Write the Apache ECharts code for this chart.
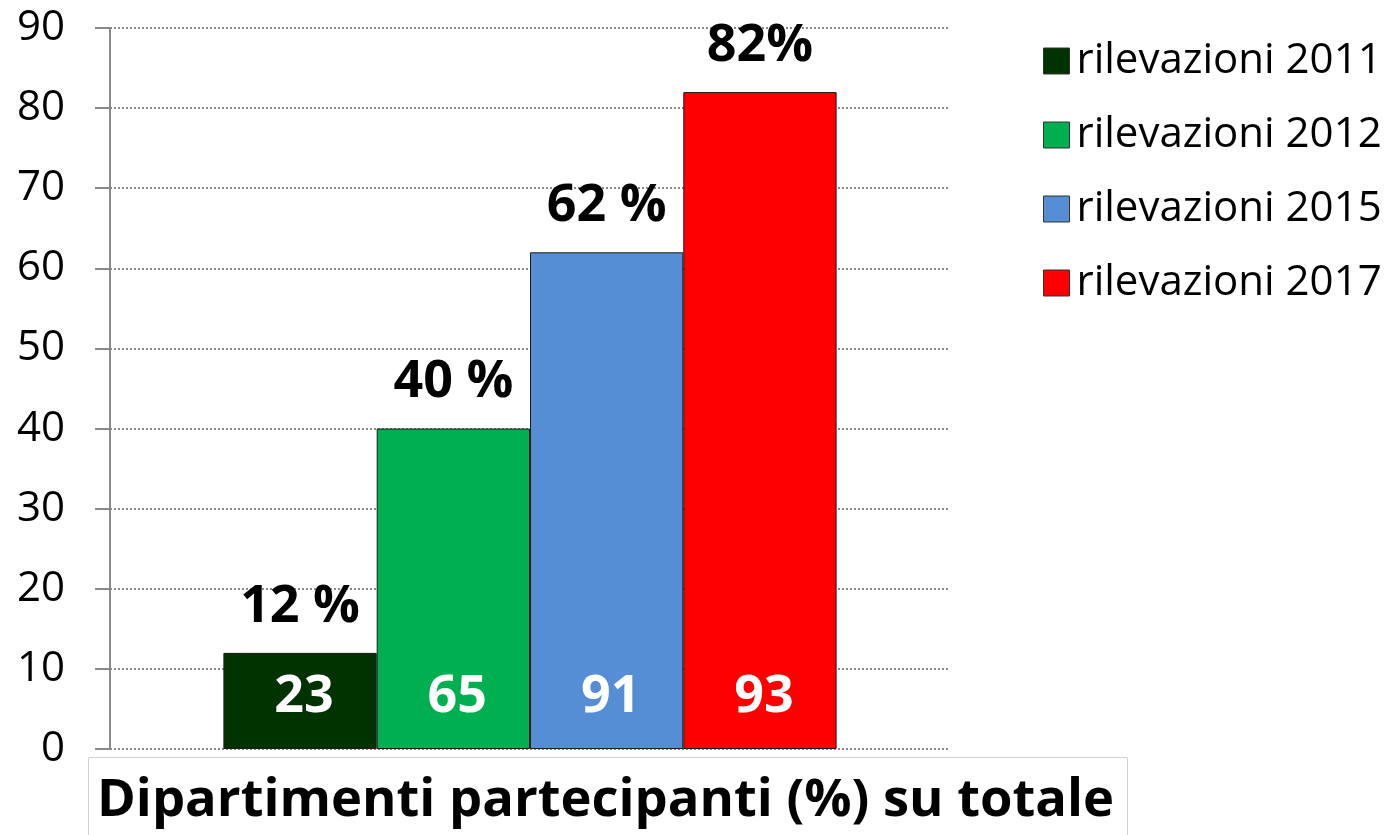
<!DOCTYPE html>
<html>
<head>
<meta charset="utf-8">
<script src="https://cdn.jsdelivr.net/npm/echarts@6/dist/echarts.min.js"></script>
<style>html,body{margin:0;padding:0;background:#fff;}#c{width:1391px;height:835px;}</style>
</head>
<body>
<div id="c"></div>
<script>
const categories = ['Dipartimenti partecipanti (%) su totale'];
const seriesNames = ['rilevazioni 2011', 'rilevazioni 2012', 'rilevazioni 2015', 'rilevazioni 2017'];
const percentValues = [12, 40, 62, 82];
const percentLabels = ['12 %', '40 %', '62 %', '82%'];
const countValues = [23, 65, 91, 93];
const colors = ['#003300', '#00B050', '#558ED5', '#FF0000'];
const yTicks = { min: 0, max: 90, interval: 10 };

const FONT = '"Open Sans", "Noto Sans", sans-serif';
const chart = echarts.init(document.getElementById('c'));

const series = seriesNames.map((name, i) => ({
  name: name,
  type: 'bar',
  data: [percentValues[i]],
  barGap: '0%',
  barCategoryGap: '27%',
  itemStyle: { color: colors[i], borderColor: '#1a1a1a', borderWidth: 1 },
  label: {
    show: true,
    position: 'top',
    distance: 20,
    formatter: () => percentLabels[i],
    color: '#000',
    fontFamily: FONT,
    fontWeight: 'bold',
    fontSize: 52
  },
  markPoint: {
    symbol: 'rect',
    symbolSize: 0,
    silent: true,
    data: [{ coord: [0, 0], value: countValues[i] }],
    label: {
      show: true,
      position: 'inside',
      offset: [4, -52],
      formatter: '{c}',
      color: '#fff',
      fontFamily: FONT,
      fontWeight: 'bold',
      fontSize: 52
    }
  }
}));

chart.setOption({
  backgroundColor: '#fff',
  animation: false,
  color: colors,
  grid: { left: 110, right: 441, top: 28, bottom: 86, containLabel: false },
  legend: {
    orient: 'vertical',
    left: 1038,
    top: 35,
    itemWidth: 26,
    itemHeight: 26,
    itemGap: 32,
    icon: 'rect',
    itemStyle: { borderColor: '#333', borderWidth: 1 },
    textStyle: { fontFamily: FONT, fontSize: 42, color: '#000', padding: [0, 0, 0, 2] },
    data: seriesNames
  },
  xAxis: {
    type: 'category',
    data: categories,
    axisLine: { show: false },
    axisTick: { show: false },
    axisLabel: { show: false }
  },
  yAxis: {
    type: 'value',
    min: yTicks.min,
    max: yTicks.max,
    interval: yTicks.interval,
    axisLine: { show: true, lineStyle: { color: '#898989', width: 2 } },
    axisTick: { show: true, length: 15, lineStyle: { color: '#898989', width: 2 } },
    axisLabel: { margin: 45, color: '#000', fontFamily: FONT, fontSize: 42 },
    splitLine: { show: true, lineStyle: { color: '#898989', width: 2, type: [2, 2] } }
  },
  graphic: [
    {
      type: 'rect',
      left: 88,
      top: 757,
      shape: { width: 1039, height: 90 },
      style: { fill: '#fff', stroke: '#d0d0d0', lineWidth: 1 },
      z: 0
    },
    {
      type: 'text',
      left: 97,
      top: 775,
      style: {
        text: categories[0],
        fill: '#000',
        font: 'bold 52.5px ' + FONT
      },
      z: 1
    }
  ],
  series: series
});
</script>
</body>
</html>
